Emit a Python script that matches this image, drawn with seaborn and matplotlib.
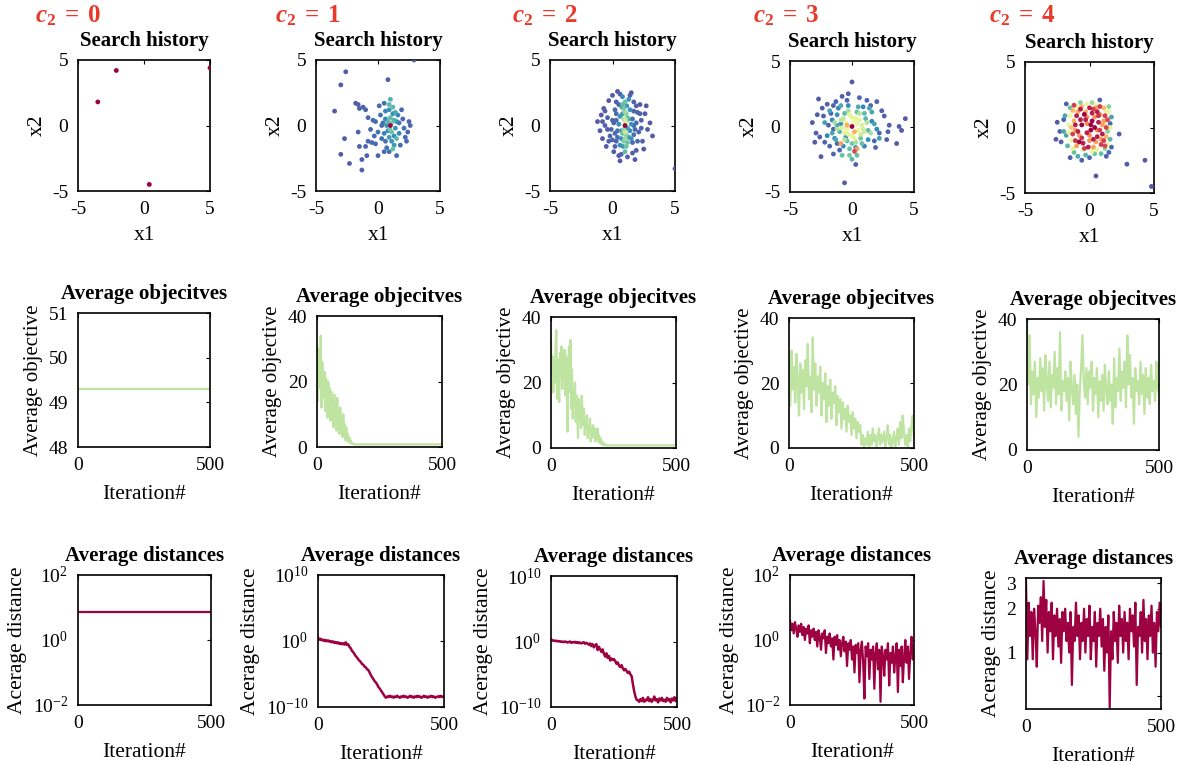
import numpy as np
import pandas as pd
import matplotlib
matplotlib.use('Agg')
import matplotlib.pyplot as plt
import seaborn as sns
from matplotlib.ticker import NullLocator, FixedLocator, FixedFormatter

sns.set_style('white')
plt.rcParams['font.family'] = ['Liberation Serif', 'DejaVu Serif']
plt.rcParams['mathtext.fontset'] = 'custom'
plt.rcParams['mathtext.rm'] = 'Liberation Serif'
plt.rcParams['mathtext.it'] = 'Liberation Serif:italic'
plt.rcParams['mathtext.bf'] = 'Liberation Serif:bold'
plt.rcParams['mathtext.bfit'] = 'Liberation Serif:bold:italic'
plt.rcParams['axes.unicode_minus'] = False
plt.rcParams['text.color'] = 'black'
plt.rcParams['axes.labelcolor'] = 'black'
plt.rcParams['xtick.color'] = 'black'
plt.rcParams['ytick.color'] = 'black'

# ---------------- data ----------------
c2_values = [0, 1, 2, 3, 4]

# search history points: (x1, x2, colour position 0..1 along iterations)
hist_c0 = [(-3.5, 1.8, 1.0), (-2.1, 4.2, 1.0), (0.4, -4.5, 1.0), (5.0, 4.4, 1.0)]

hist_c1 = [(-3.5, 1.1, .02), (-3.0, 3.1, .02), (-2.6, 4.1, .02), (-2.7, -1.0, .03), (-3.0, -2.2, .02),
           (-2.3, -2.9, .03), (-1.3, -3.4, .03), (-1.3, -2.6, .03), (-0.9, -2.3, .04), (0.8, 3.5, .03),
           (2.9, 5.0, .02), (-1.6, -0.5, .04), (-1.6, 1.6, .03), (-1.5, 1.3, .04), (-1.2, 1.4, .03),
           (-1.0, 1.2, .04), (-1.5, -1.6, .04), (-1.0, -1.6, .04), (-0.8, -1.2, .05), (-0.5, -1.3, .05),
           (-0.2, -1.4, .05), (0.0, -2.3, .04), (0.5, -2.0, .05), (1.5, -2.3, .05), (2.4, -0.5, .04),
           (2.5, 0.3, .04), (2.2, -0.9, .05), (-0.8, 0.6, .05), (-0.4, 0.4, .05), (-0.2, 0.3, .05),
           (-0.6, -0.3, .05), (0.0, -0.5, .06), (0.2, 0.8, .06), (0.3, -1.0, .06), (0.4, 0.2, .06),
           (2.0, 0.5, .05), (2.1, -0.2, .06), (1.8, -1.5, .06), (0.1, 1.5, .05), (0.5, 1.7, .06),
           (1.9, 1.2, .05), (0.7, -1.7, .06), (2.3, -1.2, .05), (0.3, 0.0, .05), (-0.3, -0.8, .05),
           (0.6, -1.2, .06), (1.7, 0.2, .06), (0.9, -2.0, .06), (-1.8, 1.7, .03), (2.6, 0.0, .04),
           (0.6, 0.5, .1), (0.8, -0.4, .1), (1.2, 0.9, .11), (1.3, -0.8, .11), (0.5, -0.6, .1),
           (1.5, 0.3, .11), (0.9, 1.2, .12), (1.1, -1.2, .12), (0.7, 0.0, .12), (1.4, -0.2, .12),
           (1.6, 0.8, .1), (1.3, -1.5, .13), (0.6, 1.1, .1), (0.9, -0.9, .13), (1.7, -0.6, .1),
           (1.0, 2.0, .17), (0.9, 1.6, .18), (1.2, 1.4, .18), (1.0, 0.6, .19), (1.1, -0.5, .2),
           (1.3, 0.4, .17), (1.2, -1.8, .2), (0.8, 0.3, .18), (1.4, 1.0, .16), (1.5, -1.0, .19),
           (1.1, 0.2, .22), (0.95, -0.3, .22), (1.0, 0.0, 1.0)]

hist_c2 = [(-1.2, 0.3, .02), (-1.0, -0.4, .02), (-0.9, 0.8, .02), (-0.8, -1.0, .02), (-0.7, 1.3, .02),
           (-0.6, 0.0, .03), (-0.5, -1.6, .02), (-0.4, 0.6, .03), (-0.3, 1.9, .02), (-0.2, -0.8, .03),
           (0.0, 2.3, .02), (0.1, -2.0, .02), (0.2, 1.2, .04), (0.3, -1.2, .04), (0.4, 2.6, .02),
           (0.5, -2.3, .02), (0.0, 0.4, .04), (-0.1, -0.3, .04), (0.3, 0.9, .05), (0.2, -0.6, .05),
           (1.5, 2.5, .02), (1.7, 1.8, .03), (1.9, -1.9, .03), (2.0, 1.0, .03), (2.1, -0.5, .04),
           (2.3, 0.4, .03), (2.4, -1.2, .03), (2.6, 0.9, .02), (2.8, -0.3, .02), (3.0, 0.2, .02),
           (3.2, -0.8, .02), (2.2, 1.6, .02), (1.8, -2.6, .02), (1.2, -2.4, .03), (0.6, -2.7, .02),
           (2.5, -1.8, .02), (1.6, 0.5, .06), (1.7, -0.7, .06), (1.9, 0.2, .05), (0.5, 1.6, .05),
           (0.4, -0.4, .06), (1.6, -1.3, .05), (-0.3, -1.2, .03), (2.7, 1.5, .02), (5.0, -3.3, .02),
           (0.1, 0.2, .04), (0.3, 1.8, .03), (0.2, -1.6, .04), (1.7, 1.1, .04), (1.8, -0.3, .05),
           (2.0, -1.2, .04), (0.4, -0.9, .05), (-0.4, -0.3, .03), (0.6, 2.4, .03), (1.4, 2.3, .03),
           (1.6, -2.1, .03), (0.7, -2.2, .04), (2.2, 0.9, .04), (-0.6, 1.1, .03), (-0.8, 0.3, .03),
           (0.0, -1.1, .04), (1.9, 1.5, .03), (2.3, -0.2, .04), (0.3, 0.4, .05), (1.7, 0.0, .06),
           (0.6, 0.7, .12), (1.4, -0.4, .12), (0.7, -1.0, .12), (1.4, 1.2, .12), (0.5, 0.1, .11),
           (1.5, -1.0, .12), (0.6, -1.5, .11), (1.3, 2.0, .12), (0.8, 2.2, .11), (1.5, 0.1, .12),
           (0.8, 0.9, .13), (1.2, -0.2, .14), (0.85, -1.6, .13), (1.15, 1.5, .13), (1.3, 0.5, .13),
           (0.7, -0.4, .13), (1.3, -0.9, .13), (0.75, 1.4, .13),
           (1.0, 1.8, .2), (0.9, 1.3, .22), (1.1, 0.9, .25), (0.9, 0.5, .27), (1.1, 0.3, .28),
           (0.9, -0.3, .26), (1.1, -0.7, .25), (0.9, -1.2, .23), (1.1, -1.6, .21), (1.0, -2.0, .19),
           (1.2, 0.6, .2), (0.8, -0.6, .2), (1.0, 1.0, .28), (1.0, -1.0, .28), (1.2, -1.3, .2),
           (0.8, 1.6, .19), (1.0, 0.5, .35), (1.0, -0.5, .35), (1.05, 0.2, .38), (1.0, 0.0, 1.0)]

hist_c3 = [(-3.2, 0.3, .02), (-2.9, -0.5, .03), (-2.7, 2.1, .02), (-2.5, -2.3, .02), (-2.3, 0.8, .03),
           (-2.0, 1.7, .03), (-1.8, -1.5, .04), (-1.7, 1.0, .04), (-1.5, -0.2, .04), (-1.3, 1.9, .03),
           (-1.0, -1.8, .04), (-0.8, 2.3, .03), (-0.6, -4.3, .02), (0.0, 3.4, .02), (0.6, 2.2, .04),
           (1.5, 1.6, .04), (2.0, 1.9, .03), (2.2, -0.5, .04), (2.6, 0.8, .03), (3.0, 0.1, .03),
           (3.6, -1.3, .02), (3.8, 0.0, .02), (4.0, -0.3, .02), (4.3, 0.6, .02), (2.9, -0.4, .03),
           (-2.6, -0.8, .03), (-2.2, -1.2, .04), (-1.9, 0.1, .04), (-1.2, -1.3, .05), (1.8, -1.1, .05),
           (2.4, 1.2, .03), (-0.4, 2.0, .04), (1.2, 2.0, .04), (-1.5, 1.6, .04),
           (-2.8, 0.9, .03), (-2.4, 1.4, .03), (-3.0, -1.2, .02), (1.9, -1.6, .04), (2.8, -1.0, .03),
           (-0.3, 2.5, .03), (0.3, -2.9, .03), (-1.5, -2.1, .04),
           (-2.0, -0.7, .1), (-1.6, 0.5, .1), (-1.4, -0.9, .11), (-1.1, 1.4, .1), (-0.9, 0.2, .12),
           (-0.7, -1.5, .11), (-0.3, 1.6, .11), (0.3, -1.6, .11), (0.9, 1.5, .1), (1.3, -1.0, .11),
           (1.6, 0.4, .1), (2.0, -0.2, .1), (-1.2, 0.9, .11), (1.0, -1.5, .1), (-0.5, -0.8, .12),
           (-1.0, -0.4, .18), (-0.6, 1.0, .19), (-0.4, -1.1, .2), (0.4, 1.1, .2), (0.7, -0.9, .21),
           (1.1, 0.6, .18), (1.3, -0.3, .18), (-1.2, 0.1, .16), (0.0, -1.3, .22), (0.5, 1.5, .16),
           (-0.8, -2.2, .2), (-0.2, -2.2, .22), (0.4, -2.2, .2), (0.0, -2.5, .18), (1.0, 1.0, .19),
           (-0.9, 1.6, .16), (-1.6, -0.5, .15), (-1.3, -1.0, .16), (1.6, 1.1, .15), (1.8, 0.2, .15),
           (-2.2, 0.3, .14), (-1.8, 1.2, .14), (0.8, -1.3, .2), (1.4, 1.4, .15), (-0.2, -1.7, .2),
           (2.2, -0.9, .14),
           (-0.7, 0.6, .34), (0.7, -0.6, .36), (0.4, 0.2, .42), (-0.4, -0.2, .42), (1.2, 0.3, .32),
           (-1.2, -0.2, .32), (0.0, 0.7, .4), (0.0, -0.7, .4), (0.9, -0.2, .36), (-0.9, 0.5, .34),
           (0.3, -1.2, .3), (-0.3, 1.2, .3), (1.5, -0.5, .3), (-1.4, 0.3, .3), (0.6, 1.0, .32),
           (-0.6, -1.0, .32),
           (-0.5, 0.3, .42), (0.5, -0.3, .42), (0.3, 0.6, .4), (-0.3, -0.6, .4), (0.8, 0.1, .38),
           (-0.8, -0.1, .38), (0.2, -0.9, .4), (-0.2, 0.9, .4), (0.6, 0.5, .4), (-0.6, -0.5, .4),
           (1.0, -0.4, .36), (0.1, 0.3, .45),
           (-0.9, -1.3, .72), (0.4, -1.7, .72), (-0.4, 0.1, .7), (0.2, -0.4, .7),
           (0.2, -1.9, .88), (0.0, 0.0, 1.0)]

hist_c4 = [(-2.5, 0.4, .02), (-2.6, -0.9, .02), (-2.2, -1.1, .03), (-1.8, 1.8, .03), (-1.5, -2.3, .03),
           (-0.6, -2.5, .03), (0.0, -2.3, .04), (0.5, -3.7, .02), (1.7, -1.5, .04), (2.3, -0.5, .03),
           (2.9, -2.8, .02), (4.3, -2.5, .02), (4.8, -4.5, .02), (1.5, -1.9, .04), (1.6, 0.3, .05),
           (-2.0, 0.6, .04), (0.8, 2.1, .04), (-2.3, -0.3, .04), (1.3, -2.2, .04),
           (-1.9, 0.9, .15), (-2.0, -0.3, .16), (-1.7, -1.4, .18), (-1.2, -1.9, .2), (-0.3, -2.1, .18),
           (0.4, -2.0, .22), (1.2, -1.6, .25), (1.6, -0.9, .18), (1.7, 0.8, .15), (1.5, 1.6, .25),
           (0.2, 1.9, .28), (-0.7, 1.9, .25), (-1.5, 1.5, .2), (-1.8, -0.6, .15), (1.4, -0.3, .25),
           (0.9, -2.0, .2), (-0.9, -2.2, .16),
           (-1.6, 0.2, .42), (-1.4, -1.0, .42), (-1.0, 1.6, .42), (0.5, 1.7, .42), (1.3, 1.2, .42),
           (1.4, -1.3, .42), (0.2, -1.8, .42), (-0.5, -1.7, .42), (-1.5, 0.9, .42), (1.2, 0.4, .42),
           (-1.6, -0.4, .4), (1.6, 0.0, .4), (-0.2, 1.8, .42), (0.6, -1.7, .42), (-1.3, -1.6, .4),
           (1.5, 1.2, .4),
           (-1.2, 0.5, .7), (-0.8, -0.6, .72), (-0.3, 1.2, .7), (0.4, 0.8, .75), (0.9, -0.9, .72),
           (1.1, 1.5, .68), (-1.0, -1.4, .72), (0.0, -1.0, .74), (0.6, -0.2, .75), (-0.6, 1.6, .68),
           (1.0, 0.2, .72), (-1.3, 1.3, .68), (0.3, -1.5, .72), (-0.2, 0.3, .75), (0.8, 1.0, .74),
           (-1.1, -0.2, .72), (1.3, -0.7, .68), (0.5, 1.5, .72), (-0.2, 0.8, .75), (0.5, -1.1, .72),
           (-0.9, 1.2, .7), (1.1, 0.5, .72), (-1.4, 0.0, .66), (0.0, -0.6, .75),
           (-1.0, 0.9, .95), (-0.6, 0.2, 1.0), (-0.2, -0.4, .95), (0.2, 0.5, 1.0), (0.6, 1.2, .95),
           (1.0, -0.5, .95), (-0.8, -1.1, 1.0), (0.3, -0.9, .95), (-0.4, 1.0, 1.0), (0.7, 0.4, .95),
           (1.2, 0.9, .9), (-1.3, -0.5, .9), (0.0, 1.5, .95), (-0.5, -1.2, .95), (0.9, -1.3, .9),
           (-1.1, 0.2, .95), (0.4, 0.0, 1.0), (-0.3, 0.6, .95), (1.1, -1.0, .9), (-0.7, 1.4, .95),
           (0.1, -0.2, 1.0), (0.6, -0.7, .95), (-0.9, -0.3, .95), (0.8, 1.6, .9), (-1.2, 1.7, .9),
           (1.4, 0.6, .88), (0.2, 1.1, .95), (-0.1, -1.5, .95), (0.8, -0.2, .9), (-0.6, -0.8, .92),
           (0.3, 1.4, .9), (-1.1, -1.0, .92), (1.3, 0.0, .88), (-0.4, -1.6, .9), (0.7, 0.9, .92),
           (-0.7, 0.6, .95), (1.2, -1.4, .88), (0.1, 0.2, 1.0)]

# average objective per iteration
obj_c0_iter = [0, 500]
obj_c0 = [49.3, 49.3]

obj_c1_iter = list(range(0, 151, 3)) + [500]
obj_c1 = [31, 14, 30, 22, 18, 34, 12, 26, 20, 15,
          23, 11, 21, 16, 9, 20, 13, 18, 8, 17,
          11, 14, 6, 16, 10, 13, 5, 15, 7, 11,
          4, 12, 6, 9, 3, 10, 5, 7, 2, 6,
          3, 4, 1.5, 3, 1.2, 2, 1, 1.3, 0.9, 0.9,
          0.8, 0.8]

obj_c2_iter = list(range(0, 226, 3)) + [500]
obj_c2 = [33, 22, 28, 17, 26, 20, 30, 36, 15, 27,
          19, 14, 29, 22, 31, 18, 27, 24, 30, 16,
          28, 21, 5, 26, 31, 17, 33, 12, 24, 9,
          18, 14, 20, 8, 16, 11, 3, 15, 9, 13,
          6, 16, 10, 7, 12, 4, 9, 6, 10, 3,
          7, 5, 9, 2, 6, 3, 7, 4, 6, 2,
          5, 3, 6, 2, 4, 1.5, 3, 1.2, 2, 1,
          1.5, 0.9, 1.2, 0.8, 0.9, 0.8, 0.8]

iter_5 = list(range(0, 501, 5))
obj_c3 = [27, 13, 30, 18, 25, 14, 29, 20, 10, 26,
          17, 24, 12, 27, 19, 32, 15, 22, 11, 34,
          18, 26, 13, 22, 17, 25, 10, 20, 15, 23,
          8, 19, 13, 21, 9, 17, 14, 19, 7, 16,
          11, 15, 6, 14, 9, 12, 5, 13, 8, 10,
          4, 11, 6, 9, 3, 8, 5, 7, 1, 4,
          0.3, 3, 1, 5, 0.5, 4, 1, 6, 2, 4,
          0.5, 3, 6, 1, 4, 2, 5, 0.5, 3, 7,
          1, 4, 0.3, 2, 5, 0.5, 3, 6, 1, 8,
          3, 10, 5, 1, 4, 0.5, 6, 2, 7, 10,
          3]
obj_c4 = [39, 20, 35, 14, 24, 17, 27, 10, 22, 16,
          28, 18, 25, 12, 29, 21, 15, 27, 13, 23,
          19, 30, 14, 25, 17, 36, 12, 21, 18, 24,
          15, 22, 9, 27, 19, 14, 23, 11, 20, 4,
          18, 25, 35, 21, 16, 25, 14, 24, 19, 27,
          12, 22, 17, 25, 10, 21, 15, 23, 12, 26,
          18, 14, 24, 15, 20, 8, 28, 13, 22, 18,
          31, 15, 24, 19, 27, 13, 35, 20, 29, 16,
          22, 8, 25, 18, 21, 14, 27, 17, 23, 11,
          25, 16, 22, 14, 26, 18, 21, 15, 27, 19,
          17]

# average distance (c2 = 0 and 4 as plain values, c2 = 1..3 as log10 exponents)
dist_c0_iter = [0, 500]
dist_c0 = [7.4, 7.4]
dist_c1_log10 = [0.5, 0.2, 0.35, 0.1, 0.2, 0.0, 0.15, -0.05, 0.1, -0.1,
                 0.0, -0.2, -0.05, -0.3, -0.15, -0.35, -0.2, -0.45, -0.3, -0.5,
                 -0.35, -0.55, -0.2, -0.6, -0.5, -0.9, -1.1, -1.5, -1.7, -2.0,
                 -2.3, -2.5, -2.8, -3.0, -3.2, -3.5, -3.6, -3.9, -4.0, -4.3,
                 -4.4, -4.8, -5.2, -5.5, -5.8, -6.1, -6.3, -6.6, -7.0, -7.2,
                 -7.5, -7.8, -8.1, -8.4, -8.6, -8.4, -8.5, -8.3, -8.5, -8.4,
                 -8.6, -8.4, -8.5, -8.3, -8.5, -8.6, -8.4, -8.5, -8.3, -8.5,
                 -8.4, -8.6, -8.5, -8.3, -8.5, -8.4, -8.6, -8.4, -8.5, -8.3,
                 -8.5, -8.4, -8.6, -8.5, -8.3, -8.5, -8.4, -8.6, -8.4, -8.5,
                 -8.3, -8.5, -8.4, -8.6, -8.5, -8.4, -8.5, -8.3, -8.5, -8.4,
                 -8.5]
dist_c2_log10 = [0.35, 0.2, 0.1, 0.15, 0.05, 0.1, 0.0, 0.05, -0.05, 0.0,
                 -0.1, 0.0, -0.05, -0.15, -0.1, 0.0, -0.2, -0.1, -0.15, -0.05,
                 -0.2, -0.1, -0.25, -0.15, -0.3, -0.2, -0.1, -0.35, -0.2, -0.3,
                 -0.5, -0.3, -0.7, -0.4, -0.9, -0.6, -0.4, -1.3, -0.8, -1.2,
                 -1.6, -1.2, -1.9, -2.3, -1.8, -2.5, -2.2, -2.9, -2.6, -2.8,
                 -2.7, -3.0, -3.4, -3.2, -3.7, -3.9, -3.6, -4.1, -4.4, -4.2,
                 -4.5, -4.8, -4.6, -5.0, -5.3, -6.5, -7.6, -8.4, -8.9, -9.0,
                 -9.2, -8.8, -9.1, -8.6, -9.2, -8.9, -9.0, -8.5, -9.1, -8.8,
                 -9.2, -8.9, -8.4, -9.0, -8.8, -9.3, -8.7, -9.0, -8.6, -9.1,
                 -8.9, -9.2, -8.6, -9.0, -8.8, -9.3, -8.7, -9.0, -8.5, -9.1,
                 -8.7]
dist_c3_log10 = [0.6, 0.3, 0.5, 0.2, 0.55, 0.35, 0.1, 0.45, 0.25, 0.5,
                 0.15, 0.4, 0.0, 0.35, 0.2, 0.45, -0.1, 0.3, 0.1, 0.35,
                 0.0, 0.25, -0.2, 0.3, 0.1, -0.3, 0.2, 0.05, 0.3, -0.4,
                 0.1, -0.1, 0.2, -0.2, 0.05, -0.6, 0.1, -0.15, 0.15, -0.3,
                 0.0, -0.5, -0.1, 0.1, -0.35, -0.05, -0.8, -0.1, -0.3, 0.0,
                 -0.6, -0.2, -1.0, -0.15, -0.4, -0.1, -1.3, -0.3, -0.05, -0.7,
                 -1.8, -0.2, -0.5, -0.1, -1.2, -0.3, -0.6, -0.2, -1.5, -0.4,
                 -0.1, -0.9, -0.3, -1.9, -0.2, -0.5, -1.1, -0.3, -0.6, -0.1,
                 -1.4, -0.4, -0.7, -0.2, -1.0, -0.5, -0.1, -1.6, -0.3, -0.8,
                 -0.2, -1.3, -0.5, 0.0, -0.7, -0.2, -1.2, -0.4, 0.1, -0.6,
                 -0.2]
dist_c4 = [3.1, 0.9, 2.2, 1.3, 1.9, 0.9, 2.0, 1.4, 0.8, 2.1,
           1.6, 2.4, 1.2, 3.1, 1.5, 2.3, 1.0, 1.9, 1.4, 2.2,
           0.9, 1.8, 1.3, 2.0, 1.1, 1.7, 0.85, 1.9, 1.4, 2.0,
           1.2, 1.6, 1.0, 1.9, 0.6, 1.5, 1.2, 2.2, 1.3, 1.8,
           0.9, 1.6, 1.2, 2.0, 1.0, 1.7, 1.3, 2.1, 0.9, 1.5,
           1.2, 1.9, 0.8, 1.6, 1.3, 2.0, 1.1, 1.7, 0.75, 1.5,
           1.0, 1.8, 0.42, 1.4, 0.9, 1.9, 1.2, 1.6, 0.85, 2.1,
           1.3, 1.7, 1.0, 1.9, 1.2, 1.6, 0.9, 2.0, 1.4, 1.8,
           1.1, 2.2, 0.6, 1.5, 1.3, 1.9, 1.0, 2.3, 1.2, 1.7,
           0.9, 1.8, 1.3, 2.1, 1.0, 1.6, 0.8, 1.9, 1.4, 2.2,
           1.5]

# ---------------- layout (pixel boxes: left, top, right, bottom) ----------------
W, H = 1189, 765
row1_boxes = [(78, 60, 210, 191), (316, 60, 440, 191), (550, 60, 675, 191), (790, 61, 914, 192), (1025, 62, 1154, 193)]
row2_boxes = [(78, 313, 210, 447), (317, 316, 442, 447), (551, 317, 676, 448), (789, 318, 914, 448), (1027, 319, 1159, 450)]
row3_boxes = [(78, 575, 211, 705), (318, 575, 444, 707), (551, 576, 677, 707), (790, 575, 914, 705), (1026, 578, 1161, 709)]
c2_label_x = [35, 275, 512, 753, 989]

OBJ_COLOR = '#bfe3a0'
DIST_COLOR = '#9e0142'
TITLE_FS = 15
TICK_FS = 14
LABEL_FS = 15.5
TITLE_PAD = 10

fig = plt.figure(figsize=(W / 100, H / 100), dpi=100)


def make_ax(box):
    l, t, r, b = box
    ax = fig.add_axes([l / W, 1 - b / H, (r - l) / W, (b - t) / H])
    for s in ax.spines.values():
        s.set_visible(True)
        s.set_color('black')
        s.set_linewidth(1.2)
    ax.tick_params(direction='in', length=3, width=0.8, top=True, right=True,
                   labelsize=TICK_FS, pad=7, colors='black')
    return ax


hists = [hist_c0, hist_c1, hist_c2, hist_c3, hist_c4]
objs = [(obj_c0_iter, obj_c0), (obj_c1_iter, obj_c1), (obj_c2_iter, obj_c2),
        (iter_5, obj_c3), (iter_5, obj_c4)]
dists = [(dist_c0_iter, dist_c0),
         (iter_5, list(10.0 ** np.array(dist_c1_log10))),
         (iter_5, list(10.0 ** np.array(dist_c2_log10))),
         (iter_5, list(10.0 ** np.array(dist_c3_log10))),
         (iter_5, dist_c4)]

for i, c2 in enumerate(c2_values):
    # c2 header
    fig.text(c2_label_x[i] / W, 1 - 16 / H,
             r'$\mathbfit{c}_{\mathbf{2}}\;\mathbf{=}\;\mathbf{%d}$' % c2,
             color='#e8392b', fontsize=18, ha='left', va='center')

    # row 1: search history
    ax = make_ax(row1_boxes[i])
    df = pd.DataFrame(hists[i], columns=['x1', 'x2', 't']).sort_values('t')
    sns.scatterplot(data=df, x='x1', y='x2', hue='t', palette='Spectral_r', hue_norm=(0, 1),
                    s=12, linewidth=0, legend=False, ax=ax, zorder=3)
    ax.set_xlim(-5, 5)
    ax.set_ylim(-5, 5)
    ax.set_xticks([-5, 0, 5])
    ax.set_yticks([-5, 0, 5])
    ax.set_xlabel('x1', fontsize=LABEL_FS, labelpad=6)
    ax.set_ylabel('x2', fontsize=LABEL_FS)
    ax.set_title('Search history', fontsize=TITLE_FS, fontweight='bold', pad=TITLE_PAD)

    # row 2: average objectives
    ax = make_ax(row2_boxes[i])
    xs, ys = objs[i]
    sns.lineplot(x=xs, y=ys, color=OBJ_COLOR, lw=1.6, ax=ax, sort=False, estimator=None)
    ax.set_xlim(0, 500)
    ax.set_xticks([0, 500])
    if i == 0:
        ax.set_ylim(48, 51)
        ax.set_yticks([48, 49, 50, 51])
    else:
        ax.set_ylim(0, 40)
        ax.set_yticks([0, 20, 40])
    ax.set_xlabel('Iteration#', fontsize=LABEL_FS, labelpad=8)
    ax.set_ylabel('Average objective', fontsize=15)
    ax.set_title('Average objecitves', fontsize=TITLE_FS, fontweight='bold', pad=TITLE_PAD)

    # row 3: average distances
    ax = make_ax(row3_boxes[i])
    xs, ys = dists[i]
    sns.lineplot(x=xs, y=ys, color=DIST_COLOR, lw=1.8 if i in (1, 2) else 1.6, ax=ax,
                 sort=False, estimator=None)
    ax.set_yscale('log')
    ax.set_xlim(0, 500)
    ax.set_xticks([0, 500])
    if i in (0, 3):
        ax.set_ylim(1e-2, 1e2)
        ax.yaxis.set_major_locator(FixedLocator([1e-2, 1e0, 1e2]))
        ax.yaxis.set_major_formatter(FixedFormatter([r'$10^{-2}$', r'$10^{0}$', r'$10^{2}$']))
    elif i in (1, 2):
        ax.set_ylim(1e-10, 1e10)
        ax.yaxis.set_major_locator(FixedLocator([1e-10, 1e0, 1e10]))
        ax.yaxis.set_major_formatter(FixedFormatter([r'$10^{-10}$', r'$10^{0}$', r'$10^{10}$']))
    else:
        ax.set_ylim(0.41, 3.25)
        ax.yaxis.set_major_locator(FixedLocator([0.5, 1, 2, 3]))
        ax.yaxis.set_major_formatter(FixedFormatter(['', '1', '2', '3']))
    ax.yaxis.set_minor_locator(NullLocator())
    ax.set_xlabel('Iteration#', fontsize=LABEL_FS, labelpad=8)
    ax.set_ylabel('Acerage distance', fontsize=LABEL_FS)
    ax.set_title('Average distances', fontsize=TITLE_FS, fontweight='bold', pad=TITLE_PAD)

fig.savefig('out.png', dpi=100, facecolor='white')
